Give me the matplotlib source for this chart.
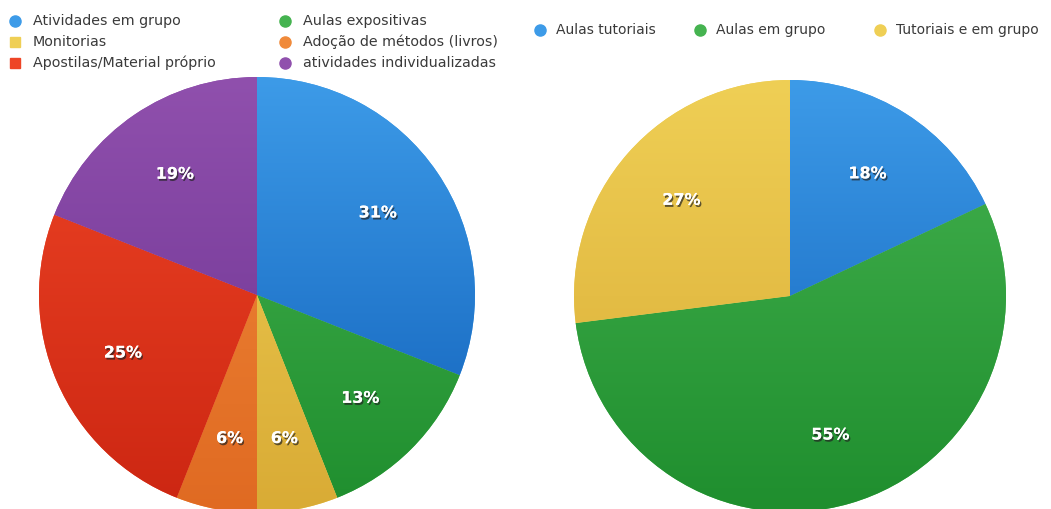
import matplotlib
matplotlib.use("Agg")
import matplotlib.pyplot as plt
import matplotlib.patheffects as pe
import numpy as np

# Left chart: teaching strategies
left_labels = ["Atividades em grupo", "Aulas expositivas", "Monitorias",
               "Adoção de métodos (livros)", "Apostilas/Material próprio",
               "atividades individualizadas"]
left_values = [31, 13, 6, 6, 25, 19]
left_colors = ["#3d9be8", "#45b350", "#efcf55", "#f08a3a", "#ee4526", "#9050ad"]
left_dark = ["#0f5eb8", "#1f8e2e", "#d9ab35", "#e06a22", "#cc2612", "#6a3190"]

# Right chart: class formats
right_labels = ["Aulas tutoriais", "Aulas em grupo", "Tutoriais e em grupo"]
right_values = [18, 55, 27]
right_colors = ["#3d9be8", "#45b350", "#efcf55"]
right_dark = ["#0f5eb8", "#1f8e2e", "#d9ab35"]

W, H = 1051, 509
fig = plt.figure(figsize=(W / 100, H / 100), dpi=100)
fig.patch.set_facecolor("white")


def make_axes(cx, cy_top, r):
    cy = H - cy_top
    return fig.add_axes([(cx - r) / W, (cy - r) / H, 2 * r / W, 2 * r / H])


def shade(c1, c2):
    a = np.array(matplotlib.colors.to_rgb(c1))
    b = np.array(matplotlib.colors.to_rgb(c2))
    t = np.linspace(0, 1, 256)[:, None]
    return (a * (1 - t) + b * t)[:, None, :]


def draw_pie(ax, values, colors, darks):
    wedges, texts = ax.pie(values, colors=colors, startangle=90, counterclock=False,
                           radius=1, labels=[f"{v}%" for v in values],
                           labeldistance=0.67,
                           wedgeprops=dict(linewidth=0),
                           textprops=dict(color="white", fontsize=11.5, fontweight="bold"))
    for w, c, d in zip(wedges, colors, darks):
        img = ax.imshow(shade(c, d), extent=[-1, 1, -1, 1], aspect="auto",
                        origin="upper", zorder=1)
        img.set_clip_path(w)
    for t in texts:
        t.set_zorder(5)
        t.set_ha("center")
        t.set_va("center")
        t.set_path_effects([pe.withSimplePatchShadow(offset=(1, -1.5), shadow_rgbFace="#222222", alpha=0.7),
                            pe.Normal()])
    ax.set_xlim(-1, 1)
    ax.set_ylim(-1, 1)
    ax.set_aspect("equal")
    ax.axis("off")


axl = make_axes(257, 295, 218)
draw_pie(axl, left_values, left_colors, left_dark)
axr = make_axes(790, 296, 216)
draw_pie(axr, right_values, right_colors, right_dark)

# Legend keys, laid out in pixel coordinates on an overlay
lg = fig.add_axes([0, 0, 1, 1], facecolor="none")
lg.set_xlim(0, W)
lg.set_ylim(H, 0)
lg.axis("off")

left_key_pos = [(15, 21), (285, 21), (15, 42), (285, 42), (15, 63), (285, 63)]
left_markers = ["o", "o", "s", "o", "s", "o"]
for (x, y), m, c, lab in zip(left_key_pos, left_markers, left_colors, left_labels):
    lg.plot([x], [y], marker=m, markersize=8 if m == "o" else 7.5, color=c,
            linestyle="none")
    lg.text(x + 18, y, lab, fontsize=10.3, color="#3a3a3a", va="center", ha="left")

right_key_x = [540, 700, 880]
for x, c, lab in zip(right_key_x, right_colors, right_labels):
    lg.plot([x], [30], marker="o", markersize=8, color=c, linestyle="none")
    lg.text(x + 16, 30, lab, fontsize=10, color="#3a3a3a", va="center", ha="left")

fig.savefig("out.png", dpi=100, facecolor="white")
